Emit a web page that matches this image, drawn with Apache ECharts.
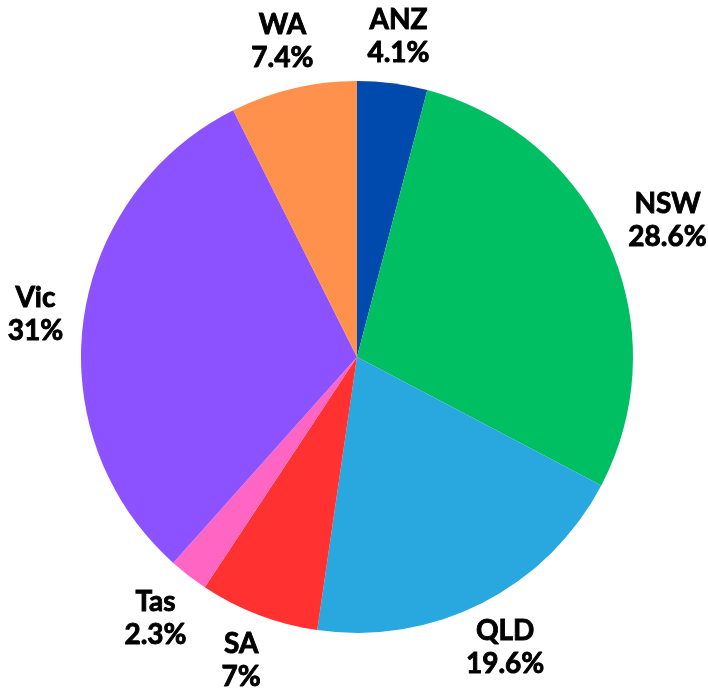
<!DOCTYPE html>
<html>
<head>
<meta charset="utf-8">
<style>
  html, body { margin: 0; padding: 0; background: #ffffff; }
  #chart { width: 708px; height: 688px; }
</style>
<script src="https://cdn.jsdelivr.net/npm/echarts@6/dist/echarts.min.js"></script>
</head>
<body>
<div id="chart"></div>
<script>
const categories = ['ANZ', 'NSW', 'QLD', 'SA', 'Tas', 'Vic', 'WA'];
const values = [4.1, 28.6, 19.6, 7, 2.3, 31, 7.4];
const valueLabels = ['4.1%', '28.6%', '19.6%', '7%', '2.3%', '31%', '7.4%'];
const colors = ['#004AAD', '#00BF63', '#29A8E0', '#FF3131', '#FF66C4', '#8C52FF', '#FF914D'];

const CX = 357, CY = 357, R = 276, LABEL_GAP = 20;

const chart = echarts.init(document.getElementById('chart'), null, { renderer: 'canvas' });

chart.setOption({
  backgroundColor: '#ffffff',
  animation: false,
  series: [
    {
      type: 'pie',
      center: [CX, CY],
      radius: [0, R],
      startAngle: 90,
      clockwise: true,
      silent: true,
      labelLine: { show: false },
      label: {
        show: true,
        position: 'inside',
        color: '#000000',
        fontFamily: 'Lato',
        fontWeight: 'bold',
        fontSize: 28,
        lineHeight: 33,
        align: 'center',
        verticalAlign: 'middle',
        textBorderColor: '#000000',
        textBorderWidth: 0.9,
        formatter: function (p) {
          return p.name + '\n' + valueLabels[p.dataIndex];
        }
      },
      labelLayout: function (params) {
        const r = params.labelRect;
        const mx = r.x + r.width / 2, my = r.y + r.height / 2;
        const dx = mx - CX, dy = my - CY;
        const len = Math.sqrt(dx * dx + dy * dy) || 1;
        const ux = dx / len, uy = dy / len;
        const hw = r.width / 2, hh = r.height / 2 - 6;
        const tx = Math.abs(ux) > 1e-6 ? hw / Math.abs(ux) : Infinity;
        const ty = Math.abs(uy) > 1e-6 ? hh / Math.abs(uy) : Infinity;
        const t = Math.min(tx, ty);
        const d = R + LABEL_GAP + t;
        return { x: CX + ux * d, y: CY + uy * d };
      },
      data: categories.map((c, i) => ({
        name: c,
        value: values[i],
        itemStyle: { color: colors[i] }
      }))
    }
  ]
});
</script>
</body>
</html>
